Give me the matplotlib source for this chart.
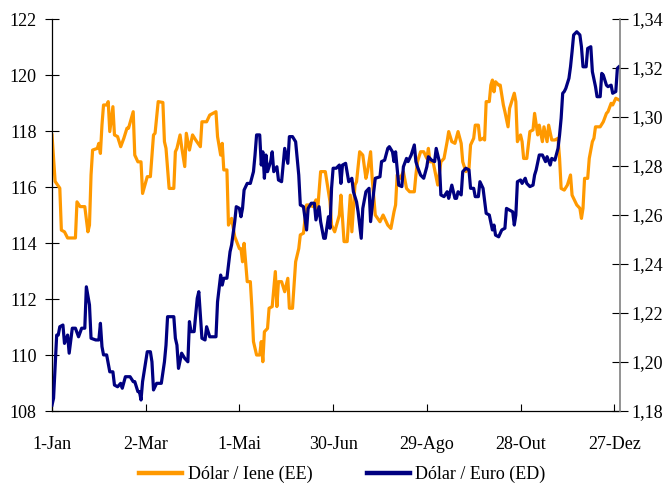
import matplotlib
matplotlib.use("Agg")
import matplotlib.pyplot as plt
from matplotlib.ticker import FuncFormatter

plt.rcParams.update({"font.family": "Liberation Serif", "font.size": 13})

# Dólar / Iene (eixo esquerdo) - dia do ano, valor
jpy_days = [0, 2, 5, 6, 8, 10, 15, 16, 18, 21, 23, 24, 25, 26, 29, 30, 31, 32, 33, 35,
            36, 37, 39, 40, 42, 44, 46, 48, 49, 52, 53, 55, 57, 58, 61, 63, 65, 66, 68, 71,
            72, 73, 75, 78, 79, 80, 82, 83, 85, 86, 88, 90, 92, 95, 96, 99, 101, 105, 106, 108,
            109, 110, 112, 113, 115, 117, 120, 121, 122, 123, 125, 127, 128, 129, 131, 133, 134, 135, 136, 138,
            139, 141, 143, 144, 145, 147, 149, 151, 152, 154, 156, 158, 159, 161, 163, 165, 167, 169, 170, 172,
            175, 176, 178, 179, 181, 184, 185, 187, 189, 191, 192, 194, 195, 197, 199, 201, 202, 204, 205, 207,
            210, 212, 213, 215, 217, 219, 220, 221, 223, 225, 227, 229, 232, 233, 234, 236, 238, 240, 241, 242,
            244, 247, 249, 251, 253, 254, 256, 258, 260, 262, 263, 265, 267, 268, 270, 271, 273, 274, 276, 277,
            278, 280, 281, 282, 283, 284, 286, 287, 289, 290, 292, 293, 295, 296, 297, 298, 300, 301, 302, 304,
            306, 308, 309, 311, 312, 314, 315, 317, 318, 320, 322, 324, 325, 326, 328, 330, 332, 333, 335, 336,
            338, 339, 340, 341, 343, 344, 346, 347, 348, 351, 353, 355, 356, 358, 359, 361, 363]
jpy_vals = [117.86, 116.2, 115.96, 114.46, 114.4, 114.18, 114.18, 115.47, 115.3, 115.3,
            114.4, 114.64, 116.43, 117.32, 117.38, 117.56, 117.2, 118.21, 118.93, 118.93,
            119.05, 117.98, 118.87, 117.86, 117.8, 117.44, 117.74, 118.1, 118.1, 118.69,
            117.14, 116.9, 116.9, 115.77, 116.37, 116.37, 117.86, 117.92, 119.05, 119.02,
            117.62, 117.38, 115.95, 115.95, 117.26, 117.38, 117.86, 117.44, 116.73, 117.92,
            117.32, 117.86, 117.68, 117.44, 118.33, 118.33, 118.57, 118.69, 117.8, 117.14,
            117.56, 116.61, 116.61, 114.64, 114.88, 114.23, 113.8, 113.8, 113.33, 113.99,
            112.62, 112.62, 111.67, 110.48, 110.0, 110.0, 110.48, 109.76, 110.83, 110.95,
            111.67, 111.73, 112.98, 111.73, 112.62, 112.62, 112.26, 112.74, 111.67, 111.67,
            113.33, 113.8, 114.29, 114.35, 115.36, 115.36, 115.3, 115.54, 115.12, 116.55,
            116.55, 116.19, 115.48, 114.64, 114.4, 115.0, 115.71, 114.05, 114.05, 115.71,
            114.4, 116.07, 116.19, 117.26, 117.14, 116.31, 116.55, 117.26, 116.31, 115.0,
            114.76, 115.0, 114.88, 114.64, 114.52, 115.12, 115.36, 116.43, 116.31, 116.55,
            115.95, 115.83, 115.83, 116.43, 116.9, 117.26, 117.26, 117.02, 117.38, 116.9,
            116.9, 116.07, 116.9, 117.02, 117.62, 117.98, 117.62, 117.56, 117.98, 117.56,
            116.9, 116.55, 116.67, 117.5, 117.74, 118.21, 118.21, 117.68, 117.74, 117.68,
            119.05, 119.05, 119.64, 119.82, 119.4, 119.76, 119.64, 119.64, 118.93, 118.69,
            118.15, 118.81, 119.17, 119.35, 119.05, 117.62, 117.86, 117.62, 117.02, 117.02,
            117.98, 118.04, 118.63, 117.86, 118.21, 117.62, 118.15, 117.62, 118.21, 117.68,
            117.68, 117.74, 117.02, 115.95, 115.89, 116.07, 116.43, 115.71, 115.48, 115.36,
            115.24, 114.88, 115.24, 116.31, 116.31, 117.02, 117.62, 117.74, 118.15, 118.15,
            118.33, 118.63, 118.69, 118.99, 118.93, 119.17, 119.11]

# Dólar / Euro (eixo direito)
eur_days = [0, 1, 3, 4, 5, 7, 8, 10, 11, 13, 15, 17, 19, 21, 22, 24, 25, 28, 30, 31,
            32, 33, 35, 37, 39, 40, 42, 44, 45, 47, 50, 52, 53, 55, 56, 57, 58, 61, 63, 64,
            65, 67, 70, 72, 73, 74, 78, 79, 80, 81, 83, 85, 87, 88, 89, 91, 93, 94, 96, 98,
            99, 101, 105, 106, 108, 109, 110, 112, 114, 115, 117, 118, 120, 121, 122, 123, 125, 127, 129, 130,
            131, 133, 134, 135, 136, 137, 138, 140, 141, 142, 144, 145, 147, 149, 151, 152, 154, 156, 158, 159,
            161, 163, 164, 166, 168, 169, 171, 172, 174, 175, 177, 178, 179, 180, 182, 184, 185, 186, 188, 190,
            192, 193, 195, 196, 198, 199, 201, 203, 204, 206, 207, 210, 211, 213, 215, 216, 218, 219, 220, 222,
            224, 225, 227, 228, 230, 232, 233, 234, 236, 238, 240, 241, 243, 245, 246, 248, 249, 251, 253, 254,
            256, 258, 259, 260, 262, 263, 265, 267, 268, 270, 271, 273, 274, 276, 278, 280, 282, 283, 284, 286,
            288, 290, 291, 293, 295, 296, 297, 298, 300, 301, 303, 304, 306, 308, 309, 310, 312, 314, 316, 317,
            319, 320, 322, 324, 325, 326, 327, 328, 329, 331, 332, 333, 334, 336, 338, 339, 340, 342, 343, 345,
            346, 348, 349, 351, 352, 353, 355, 356, 358, 359, 361, 362, 363]
eur_vals = [1.1824, 1.1852, 1.211, 1.211, 1.2144, 1.2151, 1.2076, 1.211, 1.2036, 1.2138,
            1.2138, 1.2103, 1.2138, 1.2138, 1.2307, 1.2233, 1.2097, 1.209, 1.209, 1.2158,
            1.2063, 1.2029, 1.2029, 1.196, 1.196, 1.1906, 1.1899, 1.1913, 1.1893, 1.194,
            1.194, 1.192, 1.192, 1.1879, 1.1879, 1.1845, 1.192, 1.2042, 1.2042, 1.2001,
            1.1886, 1.1913, 1.1913, 1.2001, 1.2069, 1.2185, 1.2185, 1.2097, 1.2069, 1.1974,
            1.2036, 1.2015, 1.2001, 1.2165, 1.2124, 1.2124, 1.226, 1.2287, 1.2097, 1.209,
            1.2144, 1.2103, 1.2103, 1.2246, 1.2355, 1.2314, 1.2342, 1.2342, 1.245, 1.2478,
            1.2573, 1.2634, 1.2627, 1.2593, 1.2627, 1.2702, 1.2729, 1.2729, 1.2777, 1.2845,
            1.2927, 1.2927, 1.2804, 1.2858, 1.275, 1.2845, 1.2777, 1.2818, 1.2858, 1.2777,
            1.2797, 1.2743, 1.2736, 1.2872, 1.2811, 1.292, 1.292, 1.2899, 1.2763, 1.2641,
            1.2634, 1.2539, 1.2627, 1.2648, 1.2648, 1.258, 1.2634, 1.2573, 1.2505, 1.2505,
            1.2593, 1.2546, 1.2709, 1.2791, 1.2791, 1.2804, 1.2729, 1.2804, 1.2811, 1.2736,
            1.275, 1.2695, 1.2654, 1.2613, 1.2505, 1.2627, 1.2695, 1.2709, 1.2573, 1.2695,
            1.275, 1.2756, 1.2818, 1.2824, 1.2872, 1.2879, 1.2858, 1.2818, 1.2858, 1.2722,
            1.2716, 1.2797, 1.2831, 1.2818, 1.2845, 1.2886, 1.2818, 1.2797, 1.2763, 1.275,
            1.2797, 1.2838, 1.2824, 1.2818, 1.2872, 1.2818, 1.2682, 1.2675, 1.2695, 1.2668,
            1.2722, 1.2668, 1.2668, 1.2695, 1.2682, 1.2777, 1.2791, 1.2784, 1.2709, 1.2709,
            1.2675, 1.2675, 1.2736, 1.2709, 1.2607, 1.26, 1.2539, 1.2559, 1.2518, 1.2511,
            1.2539, 1.2546, 1.2627, 1.262, 1.2613, 1.2559, 1.26, 1.2736, 1.2743, 1.2729,
            1.275, 1.2729, 1.2716, 1.2722, 1.2763, 1.2784, 1.2845, 1.2845, 1.2818, 1.2838,
            1.2804, 1.2831, 1.2824, 1.2872, 1.2927, 1.2995, 1.3097, 1.3104, 1.3117, 1.3158,
            1.3205, 1.3267, 1.3335, 1.3348, 1.3335, 1.3287, 1.3205, 1.3205, 1.328, 1.3287,
            1.3185, 1.3124, 1.3083, 1.3083, 1.3178, 1.3171, 1.313, 1.3124, 1.313, 1.3097,
            1.3104, 1.3199, 1.3205]

tick_days = [0, 60, 120, 180, 240, 300, 360]
tick_labels = ["1-Jan", "2-Mar", "1-Mai", "30-Jun", "29-Ago", "28-Out", "27-Dez"]

fig = plt.figure(figsize=(6.7, 4.84), dpi=100)
ax1 = fig.add_axes([0.0776, 0.1508, 0.8478, 0.8099])
ax2 = ax1.twinx()

ax1.plot(jpy_days, jpy_vals, color="#FF9900", lw=2.3, label="Dólar / Iene (EE)")
ax2.plot(eur_days, eur_vals, color="#000080", lw=2.3, label="Dólar / Euro (ED)")

ax1.set_xlim(0, 363.7)
ax1.set_ylim(108, 122)
ax2.set_ylim(1.18, 1.34)
ax1.set_yticks(range(108, 123, 2))
ax2.set_yticks([1.18 + 0.02 * i for i in range(9)])
ax2.yaxis.set_major_formatter(FuncFormatter(lambda v, p: f"{v:.2f}".replace(".", ",")))
ax1.set_xticks(tick_days)
ax1.set_xticklabels(tick_labels)

ax1.tick_params(axis="x", direction="in", length=5, width=0.8, pad=18)
ax1.tick_params(axis="y", direction="inout", length=10, width=0.8, pad=6)
ax2.tick_params(axis="y", direction="inout", length=11, width=0.8, pad=3)

for ax in (ax1, ax2):
    ax.spines["top"].set_visible(False)
ax1.spines["right"].set_visible(False)
ax2.spines["left"].set_visible(False)
ax2.spines["bottom"].set_visible(False)
ax2.spines["right"].set_color("#808080")
ax1.spines["left"].set_linewidth(0.9)
ax1.spines["bottom"].set_linewidth(0.9)
ax2.spines["right"].set_linewidth(1.2)

h1, l1 = ax1.get_legend_handles_labels()
h2, l2 = ax2.get_legend_handles_labels()
leg = fig.legend(h1 + h2, l1 + l2, loc="lower center", bbox_to_anchor=(0.511, -0.032),
                 ncol=2, frameon=False, handlelength=2.4, columnspacing=3.0,
                 handletextpad=0.3)
for line in leg.get_lines():
    line.set_linewidth(3.2)

fig.savefig("out.png", dpi=100)
